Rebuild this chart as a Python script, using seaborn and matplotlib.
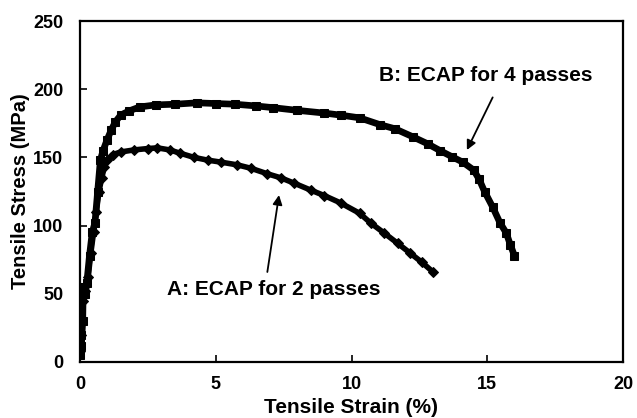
import numpy as np
import pandas as pd
import matplotlib
matplotlib.use("Agg")
import matplotlib.pyplot as plt
import seaborn as sns

# ---- data ----
strain_b = [0.0, 0.02, 0.05, 0.1, 0.12, 0.2, 0.25, 0.35, 0.45, 0.55, 0.65, 0.75, 0.85,
            1.0, 1.15, 1.3, 1.5, 1.8, 2.2, 2.8, 3.5, 4.3, 5.0, 5.7, 6.5, 7.1, 8.0, 9.0,
            9.6, 10.3, 11.05, 11.6, 12.27, 12.8, 13.26, 13.7, 14.1, 14.5, 14.7, 14.9,
            15.2, 15.47, 15.7, 15.85, 16.0]
stress_b = [5, 20, 12, 30, 55, 50, 58, 78, 95, 102, 125, 148, 155,
            163, 170, 176, 181, 184, 187, 188.5, 189, 190, 189.5, 189, 187.7, 186.5, 184.5, 182.5,
            181, 179, 174, 171, 165, 160, 155, 150.5, 146.5, 140.7, 134, 125,
            113.6, 102, 94.6, 86, 78]

strain_a = [0.0, 0.05, 0.1, 0.2, 0.3, 0.4, 0.5, 0.6, 0.7, 0.8, 0.9, 1.0, 1.2, 1.5, 2.0,
            2.5, 2.85, 3.3, 3.7, 4.2, 4.7, 5.2, 5.8, 6.3, 6.9, 7.4, 7.9, 8.5, 9.0, 9.6,
            10.3, 10.7, 11.2, 11.7, 12.15, 12.6, 13.0]
stress_a = [8, 20, 45, 52, 62, 80, 95, 110, 125, 135, 143, 148, 152, 154, 155.5,
            156.5, 157, 155.5, 153, 150, 148, 146.5, 144.5, 142, 138, 135, 131, 126, 122, 116.6,
            109, 102, 94.6, 87, 80, 73, 66]

x_ticks = [0, 5, 10, 15, 20]
y_ticks = [0, 50, 100, 150, 200, 250]
label_a = "A: ECAP for 2 passes"
label_b = "B: ECAP for 4 passes"

sns.set_theme(style="white")
plt.rcParams["font.family"] = ["Liberation Sans", "DejaVu Sans"]
plt.rcParams["font.weight"] = "bold"
for k in ["text.color", "axes.labelcolor", "xtick.color", "ytick.color", "axes.edgecolor"]:
    plt.rcParams[k] = "black"

fig = plt.figure(figsize=(6.37, 4.18), dpi=100)
ax = fig.add_axes([80/637, 1-362/418, (623-80)/637, (362-21)/418])

df_a = pd.DataFrame({"strain": strain_a, "stress": stress_a})
df_b = pd.DataFrame({"strain": strain_b, "stress": stress_b})

sns.lineplot(data=df_b, x="strain", y="stress", ax=ax, color="black", lw=4.8,
             marker="s", markersize=5.5, markeredgecolor="black", markerfacecolor="black",
             sort=False, estimator=None)
sns.lineplot(data=df_a, x="strain", y="stress", ax=ax, color="black", lw=4.0,
             marker="D", markersize=5, markeredgecolor="black", markerfacecolor="black",
             sort=False, estimator=None)

ax.set_xlim(0, 20)
ax.set_ylim(0, 250)
ax.set_xticks(x_ticks)
ax.set_yticks(y_ticks)
ax.set_xticklabels([str(t) for t in x_ticks], fontsize=13, fontweight="bold", color="black")
ax.set_yticklabels([str(t) for t in y_ticks], fontsize=13, fontweight="bold", color="black")
ax.tick_params(axis="both", direction="in", length=5, width=1.2, color="black",
               bottom=True, left=True, top=False, right=False)
ax.tick_params(axis="x", pad=10)
ax.tick_params(axis="y", pad=12)
for s in ax.spines.values():
    s.set_color("black")
    s.set_linewidth(1.6)

ax.set_xlabel("Tensile Strain (%)", fontsize=15, fontweight="bold", labelpad=4, color="black")
ax.set_ylabel("Tensile Stress (MPa)", fontsize=14.5, fontweight="bold", labelpad=2, color="black")

ax.text(3.2, 53.5, label_a, fontsize=15, fontweight="bold", ha="left", va="center", color="black")
ax.text(11.0, 209.7, label_b, fontsize=15, fontweight="bold", ha="left", va="center", color="black")

arrow = dict(arrowstyle="-|>", color="black", lw=1.3, mutation_scale=14, shrinkA=0, shrinkB=0)
ax.annotate("", xy=(7.33, 122.4), xytext=(6.9, 66), arrowprops=arrow)
ax.annotate("", xy=(14.25, 155.4), xytext=(15.2, 194), arrowprops=arrow)

fig.savefig("out.png", dpi=100)
